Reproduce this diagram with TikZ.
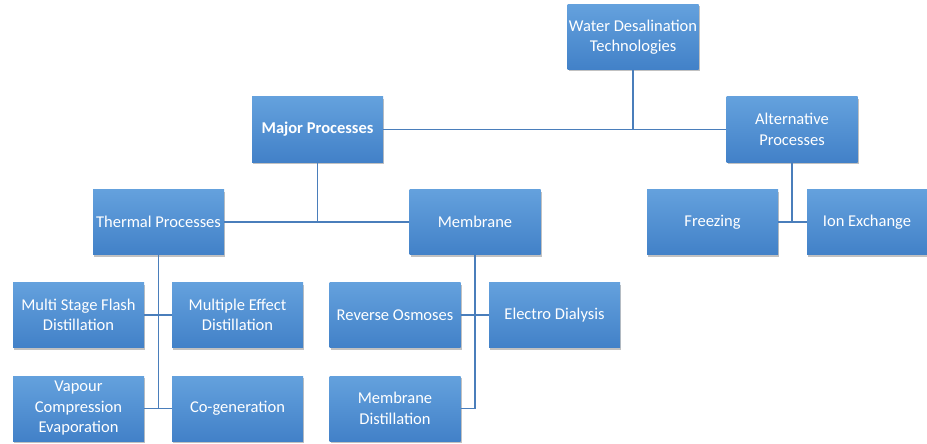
\documentclass[tikz,border=0pt]{standalone}
\usepackage{fontspec}
\setmainfont{Carlito}
\usetikzlibrary{shadows}
\definecolor{boxtop}{HTML}{64A1DD}
\definecolor{boxbot}{HTML}{4281C8}
\definecolor{linec}{HTML}{4A7EBB}
\tikzset{
  box/.style={rectangle, minimum width=131pt, minimum height=65pt, inner sep=0pt,
    top color=boxtop, bottom color=boxbot, draw=none, text=white, align=center,
    font=\fontsize{16.5}{20.5}\selectfont,
    drop shadow={shadow xshift=1pt, shadow yshift=-2pt, opacity=0.35, fill=black!70}},
  conn/.style={draw=linec, line width=1.3pt}
}
\begin{document}
\begin{tikzpicture}[x=1pt,y=-1pt]
\useasboundingbox (0,0) rectangle (927,444);
\node[box] (water) at (633,37) {Water Desalination\\Technologies};
\node[box, font=\fontsize{16.5}{20.5}\selectfont\bfseries] (major) at (317.5,129.5) {Major Processes};
\node[box] (alt) at (792,129.5) {Alternative\\Processes};
\node[box] (freezing) at (712.5,222) {Freezing};
\node[box, minimum width=120pt] (ion) at (867,222) {Ion Exchange};
\node[box] (thermal) at (158.5,222) {Thermal Processes};
\node[box] (membrane) at (475,222) {Membrane};
\node[box] (msf) at (78.5,315) {Multi Stage Flash\\Distillation};
\node[box] (med) at (237.5,315) {Multiple Effect\\Distillation};
\node[box] (vce) at (78.5,408.5) {Vapour\\Compression\\Evaporation};
\node[box] (cogen) at (237.5,408.5) {Co-generation};
\node[box] (ro) at (395,315) {Reverse Osmoses};
\node[box] (ed) at (554.5,315) {Electro Dialysis};
\node[box] (md) at (395,408.5) {Membrane\\Distillation};
% connectors
\draw[conn] (major.east) -- (alt.west);
\draw[conn] (water.south) -- (water.south |- major.east);
\draw[conn] (thermal.east) -- (membrane.west);
\draw[conn] (major.south) -- (major.south |- thermal.east);
\draw[conn] (freezing.east) -- (ion.west);
\draw[conn] (alt.south) -- (alt.south |- freezing.east);
\draw[conn] (msf.east) -- (med.west);
\draw[conn] (vce.east) -- (cogen.west);
\draw[conn] (thermal.south) -- (thermal.south |- vce.east);
\draw[conn] (ro.east) -- (ed.west);
\draw[conn] (membrane.south) |- (md.east);
\end{tikzpicture}
\end{document}
